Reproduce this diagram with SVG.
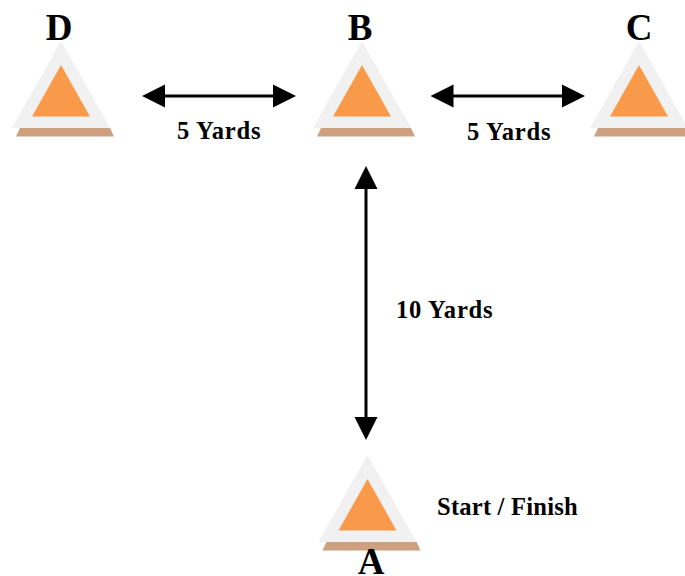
<svg xmlns="http://www.w3.org/2000/svg" width="685" height="576" viewBox="0 0 685 576">
<style>
.outer{fill:#f1f1f1}
.inner{fill:#f99a4b}
.base{fill:#cda080}
.letter{font-family:"Liberation Serif",serif;font-weight:bold;font-size:37px;fill:#000;text-anchor:middle}
.label{font-family:"Liberation Serif",serif;font-weight:bold;font-size:24.6px;fill:#000;letter-spacing:.75px}
.conn{stroke:#000;stroke-width:3;fill:none;marker-start:url(#head);marker-end:url(#head)}
</style>
<defs>
<marker id="head" markerUnits="userSpaceOnUse" markerWidth="24" markerHeight="24" refX="13" refY="12" orient="auto-start-reverse">
<path d="M0 0.5L23 12L0 23.5Z" fill="#000"/>
</marker>
<g id="cone">
<polygon class="outer" points="61,41 110,128 12,128"/>
<polygon class="base" points="20,128 110,128 114,136.5 16,136.5"/>
<polygon class="inner" points="61,65 90,116.5 32,116.5"/>
</g>
</defs>
<g id="connectors">
<line class="conn" x1="152" y1="96" x2="286" y2="96"/>
<line class="conn" x1="440.5" y1="96" x2="575" y2="96"/>
<line class="conn" x1="366" y1="176" x2="366" y2="430"/>
</g>
<g id="node-D"><use href="#cone"/><text class="letter" x="59" y="40">D</text></g>
<g id="node-B"><use href="#cone" x="301"/><text class="letter" x="360" y="40">B</text></g>
<g id="node-C"><use href="#cone" x="578"/><text class="letter" x="639" y="40">C</text></g>
<g id="node-A"><use href="#cone" x="306.5" y="414"/><text class="letter" x="371" y="574">A</text></g>
<text class="label" x="177" y="139">5 Yards</text>
<text class="label" x="467" y="140">5 Yards</text>
<text class="label" x="396" y="318">10 Yards</text>
<text class="label" x="437" y="515" style="letter-spacing:.2px">Start / Finish</text>
</svg>
